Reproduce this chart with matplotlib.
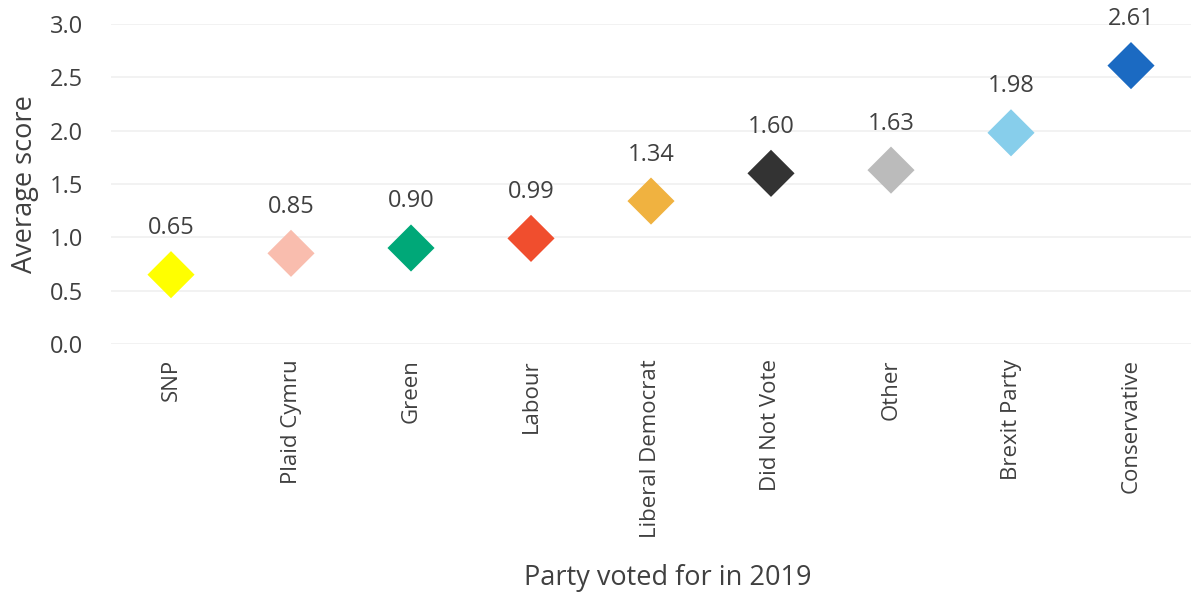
import matplotlib
matplotlib.use("Agg")
import matplotlib.pyplot as plt

categories = ["SNP", "Plaid Cymru", "Green", "Labour", "Liberal Democrat",
              "Did Not Vote", "Other", "Brexit Party", "Conservative"]
values = [0.65, 0.85, 0.90, 0.99, 1.34, 1.60, 1.63, 1.98, 2.61]
colors = ["#FFFF00", "#F9BDAE", "#00A878", "#F04E2E", "#F0B240",
          "#333333", "#BBBBBB", "#87CEEB", "#1B6AC2"]
yticks = [0.0, 0.5, 1.0, 1.5, 2.0, 2.5, 3.0]

plt.rcParams['font.family'] = ['Open Sans', 'DejaVu Sans']
text_color = "#404040"

fig = plt.figure(figsize=(11.91, 5.95), dpi=100)
ax = fig.add_axes([111/1191, 1-344/595, 1-111/1191, 320/595])

x = list(range(len(categories)))
ax.scatter(x, values, marker="D", s=24**2 * 1.0, c=colors, linewidths=0,
           zorder=3, clip_on=False)
for xi, v in zip(x, values):
    ax.annotate(f"{v:.2f}", (xi, v), xytext=(0, 33.5), textcoords="offset points",
                ha="center", va="center", fontsize=17, color=text_color)

ax.set_xlim(-0.5, len(categories) - 0.5)
ax.set_ylim(0, 3)
ax.set_yticks(yticks)
ax.set_yticklabels([f"{t:.1f}" for t in yticks])
ax.set_xticks(x)
ax.set_xticklabels(categories, rotation=90, va="top", ha="center")
ax.tick_params(axis="y", length=0, pad=20, labelsize=17, labelcolor=text_color)
ax.tick_params(axis="x", length=0, pad=11, labelsize=16, labelcolor=text_color)
ax.grid(axis="y", color="#F0F0F0", linewidth=1.2)
ax.set_axisbelow(True)
for s in ax.spines.values():
    s.set_visible(False)

ax.set_ylabel("Average score", fontsize=19.5, color=text_color, labelpad=8)
fig.text(668 / 1191, 1 - 578/595, "Party voted for in 2019",
         ha="center", va="center", fontsize=19.5, color=text_color)

fig.savefig("out.png", dpi=100)
